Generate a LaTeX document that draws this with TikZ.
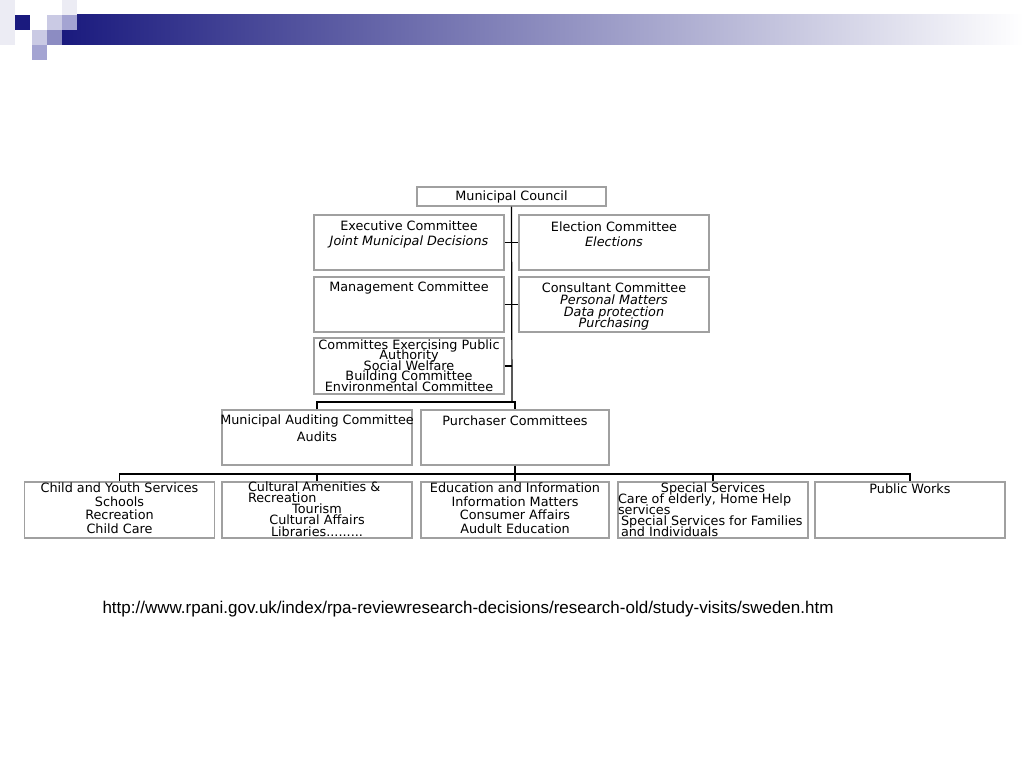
\documentclass[tikz,border=0pt]{standalone}
\usepackage{fontspec}
\setmainfont{DejaVu Sans}
\newfontfamily\urlfont{Liberation Sans}
\usetikzlibrary{positioning}
\setlength{\lineskiplimit}{-50pt}

\definecolor{boxgray}{HTML}{A0A0A0}
\definecolor{navy}{HTML}{1A1A7E}
\definecolor{fade}{HTML}{A4A4BC}
\definecolor{lilac}{HTML}{CACAE4}
\definecolor{mauve}{HTML}{8C8CC2}
\definecolor{lavender}{HTML}{A4A4D2}
\definecolor{haze}{HTML}{ECECF4}

\begin{document}
\begin{tikzpicture}[
        x=1pt, y=1pt,
        unit/.style={draw=boxgray, line width=1.2pt, minimum width=190pt,
                     minimum height=55pt, inner sep=0pt},
        txt/.style={align=center, inner sep=0pt,
                    font=\fontsize{12.8pt}{#1}\selectfont},
        txt/.default=13.7pt,
        link/.style={line width=1.2pt},
    ]

    \fill[white] (0,0) rectangle (1024,-768);

    % header bar and squares
    \shade[left color=navy, middle color=fade, right color=white] (62,-15) rectangle (1024,-45);
    \fill[haze] (0,0) rectangle (15,-45);
    \foreach \x/\y/\c in {15/15/navy, 47/15/lilac, 62/15/lavender, 62/0/haze,
                          32/30/lilac, 47/30/mauve, 32/45/lavender}
        \fill[\c] (\x,-\y) rectangle ++(15,-15);

    % top level
    \node[unit, txt, minimum width=189pt, minimum height=19pt] (council) at (511.5,-196.5) {Municipal Council};

    \node[unit] (exec)    at (409,-242.5) {};
    \node[unit] (elect)   at (614,-242.5) {};
    \node[unit] (mgmt)    at (409,-304.5) {};
    \node[unit] (consult) at (614,-304.5) {};
    \node[unit, minimum height=56pt] (public) at (409,-366) {};

    \node[txt=15pt, below=6pt of exec.north] (exec-t)
        {Executive Committee\\\textit{Joint Municipal Decisions}};
    \node[txt=15pt, below=7pt of elect.north] (elect-t)
        {Election Committee\\\textit{Elections}};
    \node[txt, below=5pt of mgmt.north] (mgmt-t) {Management Committee};
    \node[txt=11.7pt, below=6.5pt of consult.north] (consult-t)
        {Consultant Committee\\\textit{Personal Matters}\\\textit{Data protection}\\\textit{Purchasing}};
    \node[txt=10.5pt, below=2pt of public.north] (public-t)
        {Committes Exercising Public\\Authority\\Social Welfare\\Building Committee\\Environmental Committee};

    % middle level
    \node[unit] (audit) at (317,-437.5) {};
    \node[unit, minimum width=188pt] (purch) at (515,-437.5) {};

    \node[txt=17pt, below=5pt of audit.north] (audit-t) {Municipal Auditing Committee\\Audits};
    \node[txt, below=6pt of purch.north] (purch-t) {Purchaser Committees};

    % service units
    \node[unit, minimum height=56pt] (child) at (119.5,-510) {};
    \node[unit, minimum height=56pt] (cult)  at (317,-510) {};
    \node[unit, minimum height=56pt, minimum width=188pt] (edu) at (515,-510) {};
    \node[unit, minimum height=56pt] (spec)  at (713,-510) {};
    \node[unit, minimum height=56pt] (works) at (910,-510) {};

    \node[txt, below=1pt of child.north] (child-t)
        {Child and Youth Services\\Schools\\Recreation\\Child Care};
    \node[txt=11.2pt, below=0pt of cult.north] (cult-t)
        {\makebox[138pt][l]{Cultural Amenities \&}\\\makebox[138pt][l]{Recreation}\\Tourism\\Cultural Affairs\\Libraries.........};
    \node[txt, below=1pt of edu.north] (edu-t)
        {Education and Information\\Information Matters\\Consumer Affairs\\Audult Education};
    \node[txt=11pt, below=1pt of spec.north] (spec-t)
        {Special Services\\\makebox[190pt][l]{Care of elderly, Home Help}\\\makebox[190pt][l]{services}\\
         \makebox[190pt][l]{\hspace{3pt}Special Services for Families}\\\makebox[190pt][l]{\hspace{3pt}and Individuals}};
    \node[txt, below=2pt of works.north] (works-t) {Public Works};

    % connectors
    \coordinate (j1) at (512,-402);
    \coordinate (j2) at (515,-474);

    \draw[link] (council.south) -- (j1);
    \draw[link] (exec.east) -- (elect.west);
    \draw[link] (mgmt.east) -- (consult.west);
    \draw[link] (public.east) -- (public.east -| j1);
    \draw[link] (audit.north) |- (j1) -| (purch.north);
    \draw[link] (purch.south) -- (j2);
    \draw[link] (child.north) |- (j2) -| (works.north);
    \foreach \n in {cult, edu, spec}
        \draw[link] (\n.north) -- (\n.north |- j2);

    \node[font=\urlfont\fontsize{17pt}{19pt}\selectfont] (src) at (468,-609)
        {http://www.rpani.gov.uk/index/rpa-reviewresearch-decisions/research-old/study-visits/sweden.htm};

\end{tikzpicture}
\end{document}
